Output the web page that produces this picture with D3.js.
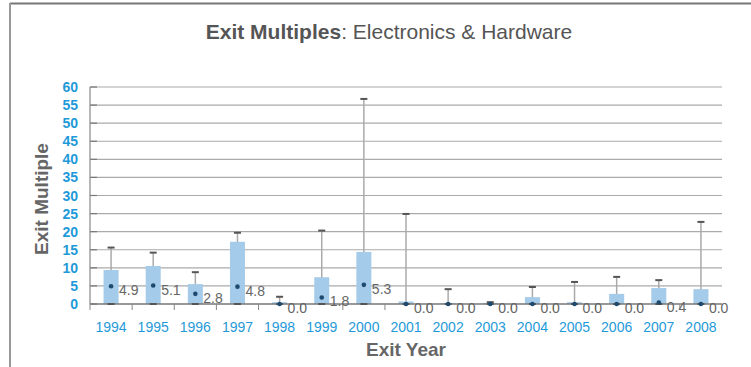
<!DOCTYPE html>
<html>
<head>
<meta charset="utf-8">
<script src="https://cdn.jsdelivr.net/npm/d3@7"></script>
<style>
  body { margin: 0; background: #fff; }
  text { font-family: "Liberation Sans", Arial, sans-serif; }
</style>
</head>
<body>
<div id="chart"></div>
<script>
// data
const years = ["1994","1995","1996","1997","1998","1999","2000","2001","2002","2003","2004","2005","2006","2007","2008"];
const means = [9.4, 10.5, 5.5, 17.2, 0.5, 7.4, 14.4, 0.7, 0.2, 0.3, 1.9, 0.5, 2.8, 4.4, 4.1];
const highs = [15.6, 14.2, 8.8, 19.7, 2.0, 20.3, 56.7, 24.9, 4.1, 0.5, 4.7, 6.1, 7.5, 6.6, 22.7];
const medians = [4.9, 5.1, 2.8, 4.8, 0.0, 1.8, 5.3, 0.0, 0.0, 0.0, 0.0, 0.0, 0.0, 0.4, 0.0];
const yTicks = [0, 5, 10, 15, 20, 25, 30, 35, 40, 45, 50, 55, 60];

const W = 751, H = 367;
const margin = { top: 87, right: 29, bottom: 63, left: 90 },
      width = W - margin.left - margin.right,
      height = H - margin.top - margin.bottom;

const svg = d3.select("#chart")
  .append("svg")
    .attr("width", W)
    .attr("height", H);

// frame lines (top and left)
svg.append("line")
  .attr("x1", 10).attr("x2", W).attr("y1", 3.5).attr("y2", 3.5)
  .attr("stroke", "#777").attr("stroke-width", 2);
svg.append("line")
  .attr("x1", 10).attr("x2", 10).attr("y1", 3).attr("y2", H)
  .attr("stroke", "#999").attr("stroke-width", 2);

// title
const title = svg.append("text")
  .attr("x", 389).attr("y", 39)
  .attr("text-anchor", "middle")
  .attr("font-size", "21px")
  .attr("fill", "#555");
title.append("tspan").attr("font-weight", "bold").text("Exit Multiples");
title.append("tspan").text(": Electronics & Hardware");

const g = svg.append("g")
  .attr("transform", `translate(${margin.left},${margin.top})`);

// scales
const x = d3.scaleBand()
  .domain(years)
  .range([0, width])
  .padding(0);

const y = d3.scaleLinear()
  .domain([0, 60])
  .range([height, 0]);

const barW = 15;

// gridlines
g.selectAll(".grid")
  .data(yTicks.filter(d => d > 0))
  .enter()
  .append("line")
    .attr("x1", 0).attr("x2", width)
    .attr("y1", d => y(d)).attr("y2", d => y(d))
    .attr("stroke", "#aaa")
    .attr("stroke-width", 1.2);

// short dark ticks inside the y axis
g.selectAll(".ytick")
  .data(yTicks)
  .enter()
  .append("line")
    .attr("x1", 0).attr("x2", 7)
    .attr("y1", d => y(d)).attr("y2", d => y(d))
    .attr("stroke", "#777")
    .attr("stroke-width", 1.2);

// y tick labels
g.selectAll(".ylab")
  .data(yTicks)
  .enter()
  .append("text")
    .attr("x", -12)
    .attr("y", d => y(d) + 5)
    .attr("text-anchor", "end")
    .attr("font-size", "14px")
    .attr("font-weight", "bold")
    .attr("fill", "#1f9ad9")
    .text(d => d);

// y axis line
g.append("line")
  .attr("x1", 0).attr("x2", 0).attr("y1", 0).attr("y2", height)
  .attr("stroke", "#888").attr("stroke-width", 1.2);

// whiskers (behind bars)
g.selectAll(".whisker")
  .data(years)
  .enter()
  .append("line")
    .attr("x1", d => x(d) + x.bandwidth() / 2)
    .attr("x2", d => x(d) + x.bandwidth() / 2)
    .attr("y1", y(0))
    .attr("y2", (d, i) => y(highs[i]))
    .attr("stroke", "#aaa")
    .attr("stroke-width", 1.5);

// bars
g.selectAll(".bar")
  .data(years)
  .enter()
  .append("rect")
    .attr("x", d => x(d) + x.bandwidth() / 2 - barW / 2)
    .attr("y", (d, i) => y(means[i]))
    .attr("width", barW)
    .attr("height", (d, i) => y(0) - y(means[i]))
    .attr("fill", "#a4cbe9");

// upper caps
g.selectAll(".cap")
  .data(years)
  .enter()
  .append("line")
    .attr("x1", d => x(d) + x.bandwidth() / 2 - 3.5)
    .attr("x2", d => x(d) + x.bandwidth() / 2 + 3.5)
    .attr("y1", (d, i) => y(highs[i]))
    .attr("y2", (d, i) => y(highs[i]))
    .attr("stroke", "#555")
    .attr("stroke-width", 2);

// x axis line at zero
g.append("line")
  .attr("x1", 0).attr("x2", width).attr("y1", y(0)).attr("y2", y(0))
  .attr("stroke", "#777").attr("stroke-width", 1.5);

// lower caps at zero
g.selectAll(".lcap")
  .data(years)
  .enter()
  .append("line")
    .attr("x1", d => x(d) + x.bandwidth() / 2 - 3.5)
    .attr("x2", d => x(d) + x.bandwidth() / 2 + 3.5)
    .attr("y1", y(0))
    .attr("y2", y(0))
    .attr("stroke", "#555")
    .attr("stroke-width", 2);

// x ticks at category boundaries
g.selectAll(".xtick")
  .data(years)
  .enter()
  .append("line")
    .attr("x1", d => x(d)).attr("x2", d => x(d))
    .attr("y1", y(0)).attr("y2", y(0) + 6)
    .attr("stroke", "#888")
    .attr("stroke-width", 1);

// x tick labels
g.selectAll(".xlab")
  .data(years)
  .enter()
  .append("text")
    .attr("x", d => x(d) + x.bandwidth() / 2)
    .attr("y", height + 28)
    .attr("text-anchor", "middle")
    .attr("font-size", "14px")
    .attr("fill", "#1f9ad9")
    .text(d => d);

// median dots
g.selectAll(".dot")
  .data(years)
  .enter()
  .append("circle")
    .attr("cx", d => x(d) + x.bandwidth() / 2)
    .attr("cy", (d, i) => y(medians[i]))
    .attr("r", 2.3)
    .attr("fill", "#1d4a6e");

// median labels
g.selectAll(".mlab")
  .data(years)
  .enter()
  .append("text")
    .attr("x", d => x(d) + x.bandwidth() / 2 + 8)
    .attr("y", (d, i) => y(medians[i]) + 9)
    .attr("font-size", "14px")
    .attr("fill", "#666")
    .text((d, i) => medians[i].toFixed(1));

// axis titles
svg.append("text")
  .attr("transform", "translate(48,199) rotate(-90)")
  .attr("text-anchor", "middle")
  .attr("font-size", "19px")
  .attr("font-weight", "bold")
  .attr("fill", "#666")
  .text("Exit Multiple");

svg.append("text")
  .attr("x", margin.left + width / 2)
  .attr("y", 356)
  .attr("text-anchor", "middle")
  .attr("font-size", "19px")
  .attr("font-weight", "bold")
  .attr("fill", "#666")
  .text("Exit Year");
</script>
</body>
</html>
